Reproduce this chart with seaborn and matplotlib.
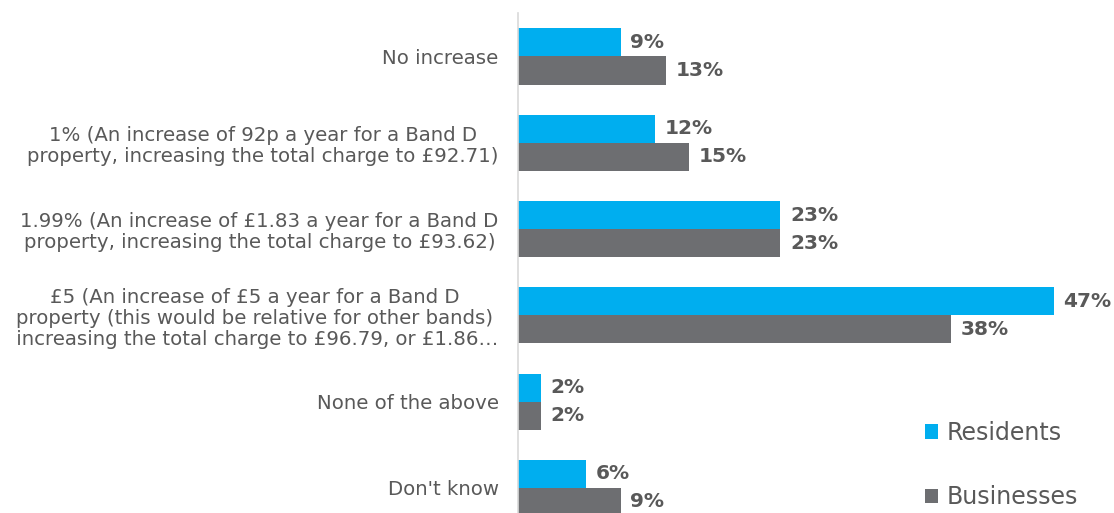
import matplotlib
matplotlib.use("Agg")
import matplotlib.pyplot as plt
import seaborn as sns
import pandas as pd

categories = [
    "No increase",
    "1% (An increase of 92p a year for a Band D\nproperty, increasing the total charge to £92.71)",
    "1.99% (An increase of £1.83 a year for a Band D\nproperty, increasing the total charge to £93.62)",
    "£5 (An increase of £5 a year for a Band D\nproperty (this would be relative for other bands)\n increasing the total charge to £96.79, or £1.86…",
    "None of the above",
    "Don't know",
]
residents = [9, 12, 23, 47, 2, 6]
businesses = [13, 15, 23, 38, 2, 9]
series = ["Residents", "Businesses"]
colors = ["#00AEEF", "#6D6E71"]

df = pd.DataFrame({
    "cat": categories * 2,
    "val": residents + businesses,
    "series": [series[0]] * len(categories) + [series[1]] * len(categories),
})

sns.set_style("white")
plt.rcParams["font.family"] = ["DejaVu Sans"]
text_color = "#595959"

fig = plt.figure(figsize=(11.14, 5.13), dpi=100)
ax = fig.add_axes([518 / 1114, 0, 596 / 1114, 500 / 513])

sns.barplot(data=df, y="cat", x="val", hue="series", order=categories,
            hue_order=series, palette=colors, width=0.65, ax=ax,
            orient="h", saturation=1, legend=True, linewidth=0)

for cont in ax.containers:
    ax.bar_label(cont, labels=[f"{v:.0f}%" for v in cont.datavalues],
                 padding=7, fontsize=14.5, fontweight="bold", color=text_color)

ax.set_xlim(0, 596 / 11.4)
ax.set_ylim(5.29, -0.504)
ax.set_xlabel("")
ax.set_ylabel("")
ax.set_xticks([])
for s in ["top", "right", "bottom"]:
    ax.spines[s].set_visible(False)
ax.spines["left"].set_color("#D9D9D9")
ax.spines["left"].set_linewidth(1.2)
ax.tick_params(axis="y", length=0, pad=14, labelsize=14.2, labelcolor=text_color)
for t in ax.get_yticklabels():
    t.set_multialignment("center")
    t.set_linespacing(1.12)

leg = ax.legend(loc="center left", bbox_to_anchor=(925 / 1114, 1 - 465 / 513),
                bbox_transform=fig.transFigure, frameon=False,
                fontsize=17, labelspacing=1.7, handlelength=0.55, handleheight=0.55,
                handletextpad=0.35, borderpad=0, borderaxespad=0)
for t in leg.get_texts():
    t.set_color(text_color)

fig.savefig("out.png", dpi=100)
